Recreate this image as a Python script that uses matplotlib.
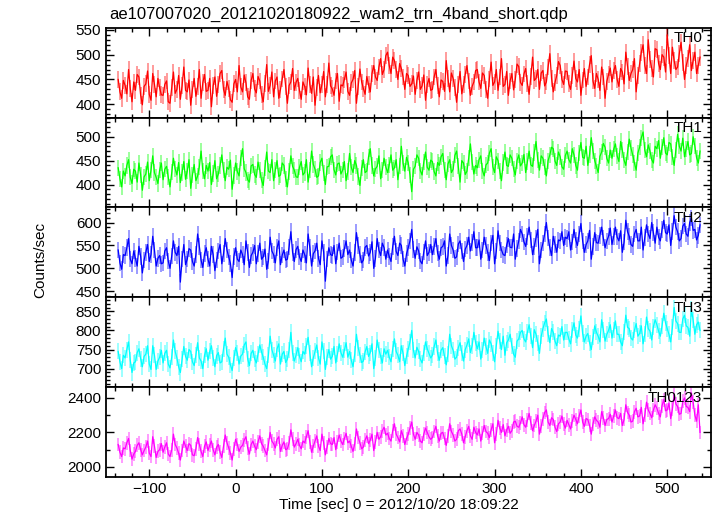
import numpy as np
import matplotlib
matplotlib.use("Agg")
import matplotlib.pyplot as plt
from matplotlib.ticker import MultipleLocator

plt.rcParams["font.family"] = ["Liberation Sans", "DejaVu Sans"]

# 2 s bins, first bin at -136 s
t_start = -136
t_step = 2

th0 = [
    450, 425, 412, 448, 438, 421, 470, 432, 405, 445, 428, 460, 455, 418, 399, 436, 441, 467, 420, 408, 462, 440, 415, 452, 433, 419,
    418, 440, 447, 405, 402, 433, 465, 422, 430, 458, 410, 437, 475, 428, 425, 449, 398, 430, 452, 416, 436, 470, 412, 443, 460, 426,
    428, 452, 395, 437, 455, 416, 440, 462, 468, 430, 418, 446, 432, 409, 404, 441, 450, 425, 478, 435, 425, 459, 443, 415, 410, 448,
    462, 431, 423, 456, 447, 420, 405, 442, 480, 426, 438, 465, 415, 447, 455, 412, 430, 451, 470, 436, 402, 438, 445, 472, 428, 444,
    452, 428, 410, 445, 436, 419, 473, 440, 422, 455, 398, 434, 458, 423, 440, 466, 415, 440, 483, 437, 431, 418, 447, 462, 406, 439,
    437, 450, 465, 426, 418, 443, 450, 468, 402, 436, 471, 445, 432, 420, 456, 439, 425, 462, 478, 455, 448, 475, 492, 460, 470, 498,
    505, 478, 462, 495, 488, 470, 450, 482, 472, 455, 430, 462, 458, 436, 441, 457, 420, 448, 465, 430, 437, 459, 408, 440, 452, 428,
    430, 455, 470, 437, 415, 449, 446, 426, 488, 452, 425, 463, 452, 433, 404, 440, 466, 421, 439, 460, 478, 447, 418, 436, 445, 468,
    470, 445, 432, 463, 458, 430, 412, 451, 485, 438, 445, 470, 428, 455, 492, 436, 440, 466, 418, 447, 462, 429, 450, 481, 476, 444,
    438, 461, 472, 442, 420, 456, 495, 448, 452, 470, 430, 463, 468, 437, 445, 475, 502, 452, 425, 444, 458, 486, 478, 450, 440, 467,
    466, 441, 430, 458, 487, 452, 445, 470, 418, 449, 472, 436, 455, 480, 498, 447, 432, 462, 450, 428, 475, 455, 412, 446, 460, 473,
    445, 468, 478, 450, 436, 472, 465, 441, 505, 476, 448, 462, 470, 492, 425, 458, 482, 505, 520, 478, 462, 530, 490, 472, 455, 512,
    510, 482, 470, 500, 495, 465, 540, 498, 462, 515, 488, 470, 475, 502, 525, 485, 450, 478, 492, 520, 468, 488, 505, 462, 478, 495,
]
th1 = [
    435, 412, 395, 428, 418, 440, 452, 415, 402, 432, 428, 405, 445, 420, 388, 416, 422, 447, 408, 430, 460, 425, 415, 402, 430, 445,
    410, 432, 438, 415, 395, 426, 455, 433, 420, 446, 404, 425, 448, 411, 428, 452, 392, 420, 442, 408, 418, 437, 470, 428, 412, 440,
    428, 446, 400, 423, 450, 412, 422, 440, 462, 430, 408, 436, 432, 451, 390, 419, 445, 427, 418, 455, 475, 433, 425, 410, 405, 439,
    442, 421, 415, 447, 430, 409, 398, 435, 468, 428, 425, 452, 408, 430, 450, 417, 420, 445, 440, 412, 395, 427, 460, 438, 430, 416,
    415, 436, 448, 420, 425, 452, 405, 430, 470, 442, 432, 415, 418, 446, 455, 424, 400, 437, 438, 458, 462, 431, 420, 443, 445, 422,
    430, 448, 408, 427, 465, 436, 425, 450, 440, 417, 398, 434, 452, 425, 428, 458, 475, 440, 418, 433, 438, 460, 412, 431, 455, 437,
    425, 441, 462, 430, 435, 452, 410, 439, 480, 445, 428, 457, 445, 420, 385, 432, 438, 462, 455, 429, 420, 447, 468, 436, 430, 451,
    448, 427, 418, 446, 440, 458, 465, 431, 410, 443, 452, 425, 432, 461, 470, 438, 405, 450, 445, 421, 428, 455, 485, 447, 422, 440,
    435, 452, 460, 429, 418, 441, 445, 466, 475, 437, 425, 458, 450, 428, 408, 446, 468, 440, 438, 462, 455, 433, 420, 450, 462, 439,
    445, 463, 425, 448, 470, 441, 438, 467, 490, 452, 430, 460, 455, 436, 418, 450, 462, 478, 475, 449, 440, 468, 458, 437, 432, 461,
    470, 452, 445, 475, 462, 440, 430, 466, 488, 457, 455, 480, 440, 463, 498, 470, 450, 438, 425, 459, 468, 486, 478, 455, 445, 472,
    455, 474, 485, 460, 448, 490, 472, 451, 440, 468, 495, 476, 462, 445, 430, 466, 478, 498, 510, 472, 458, 483, 470, 452, 445, 480,
    475, 492, 455, 478, 498, 466, 462, 488, 485, 458, 440, 473, 505, 480, 470, 497, 458, 475, 490, 462, 465, 500, 480, 456, 445, 470,
]
th2 = [
    540, 512, 498, 530, 528, 545, 565, 520, 510, 538, 522, 505, 548, 526, 490, 518, 535, 552, 515, 530, 570, 540, 505, 522, 528, 510,
    512, 538, 545, 516, 500, 527, 560, 535, 528, 548, 470, 520, 552, 508, 520, 543, 540, 515, 505, 530, 575, 548, 518, 502, 532, 545,
    520, 505, 548, 530, 495, 518, 538, 552, 510, 532, 565, 540, 525, 511, 480, 526, 545, 520, 515, 540, 530, 508, 560, 535, 502, 528,
    535, 550, 510, 532, 555, 520, 525, 542, 498, 516, 568, 538, 530, 512, 545, 560, 508, 529, 540, 518, 520, 547, 580, 535, 515, 541,
    548, 525, 515, 540, 530, 512, 575, 545, 505, 532, 538, 555, 522, 508, 560, 535, 472, 520, 545, 530, 528, 550, 510, 536, 555, 522,
    525, 543, 560, 530, 540, 518, 505, 535, 578, 550, 530, 512, 518, 546, 550, 527, 535, 558, 500, 522, 565, 540, 528, 555, 545, 520,
    540, 526, 515, 548, 570, 537, 528, 555, 550, 520, 505, 532, 545, 560, 585, 541, 522, 547, 538, 516, 510, 536, 560, 528, 535, 552,
    530, 548, 565, 533, 520, 545, 548, 560, 505, 528, 575, 550, 540, 522, 525, 553, 560, 538, 515, 542, 550, 568, 538, 556, 580, 545,
    545, 562, 520, 540, 568, 550, 535, 517, 555, 572, 510, 538, 582, 555, 540, 530, 528, 551, 565, 546, 545, 575, 520, 543, 560, 585,
    575, 558, 548, 570, 590, 562, 530, 548, 565, 585, 510, 540, 555, 575, 600, 566, 545, 528, 570, 552, 535, 562, 560, 580, 550, 568,
    565, 580, 540, 558, 585, 562, 550, 575, 598, 560, 535, 552, 560, 583, 520, 548, 578, 556, 555, 572, 590, 566, 545, 560, 570, 588,
    552, 570, 590, 568, 560, 582, 535, 557, 605, 580, 570, 552, 548, 575, 585, 560, 560, 590, 540, 567, 595, 575, 565, 600, 578, 555,
    590, 568, 560, 585, 605, 578, 575, 595, 550, 580, 615, 590, 580, 560, 565, 592, 598, 575, 570, 600, 610, 583, 585, 562, 572, 595,
]
th3 = [
    745, 718, 700, 735, 728, 750, 770, 722, 690, 715, 718, 742, 752, 726, 705, 732, 738, 760, 712, 698, 760, 735, 698, 720, 730, 748,
    715, 740, 748, 712, 702, 730, 775, 745, 728, 705, 690, 725, 758, 732, 722, 750, 745, 718, 708, 736, 768, 728, 720, 700, 735, 752,
    722, 745, 760, 728, 705, 734, 742, 715, 718, 752, 780, 738, 730, 710, 695, 727, 755, 740, 712, 733, 738, 762, 770, 725, 708, 740,
    748, 726, 715, 738, 762, 744, 730, 712, 700, 735, 785, 750, 735, 720, 752, 765, 712, 738, 745, 716, 725, 748, 795, 740, 720, 735,
    755, 732, 718, 745, 738, 760, 782, 740, 705, 728, 745, 762, 728, 712, 770, 745, 698, 730, 750, 725, 732, 758, 715, 738, 765, 742,
    730, 748, 768, 730, 745, 722, 705, 738, 790, 755, 735, 716, 720, 744, 758, 732, 742, 765, 700, 728, 775, 750, 732, 715, 752, 738,
    748, 730, 718, 752, 778, 745, 735, 718, 760, 740, 708, 733, 752, 770, 800, 748, 728, 756, 745, 725, 715, 742, 770, 752, 740, 728,
    735, 758, 775, 740, 722, 748, 755, 732, 710, 738, 790, 760, 748, 725, 730, 755, 768, 742, 720, 750, 762, 778, 742, 760, 795, 768,
    752, 770, 725, 748, 780, 758, 740, 775, 765, 742, 718, 760, 798, 772, 750, 785, 735, 768, 775, 790, 760, 738, 730, 772, 778, 795,
    800, 778, 770, 795, 815, 785, 755, 802, 790, 768, 740, 785, 805, 820, 830, 790, 768, 805, 795, 772, 760, 788, 785, 810, 775, 795,
    795, 778, 765, 800, 820, 788, 780, 805, 838, 792, 770, 785, 792, 768, 750, 782, 812, 795, 785, 770, 828, 802, 772, 790, 800, 815,
    780, 802, 825, 790, 790, 770, 760, 795, 840, 808, 805, 780, 775, 800, 818, 785, 792, 812, 765, 790, 835, 805, 798, 775, 810, 828,
    815, 798, 785, 812, 845, 820, 805, 790, 770, 808, 860, 825, 818, 795, 795, 830, 840, 812, 808, 785, 855, 828, 790, 815, 822, 800,
]
th0123 = [
    2130, 2085, 2060, 2110, 2105, 2140, 2165, 2095, 2045, 2075, 2090, 2125, 2140, 2100, 2070, 2095, 2115, 2150, 2080, 2060, 2175, 2120, 2055, 2090, 2100, 2135,
    2085, 2115, 2140, 2075, 2060, 2100, 2190, 2130, 2110, 2080, 2040, 2095, 2150, 2120, 2095, 2135, 2125, 2070, 2065, 2105, 2170, 2130, 2090, 2060, 2120, 2145,
    2095, 2125, 2150, 2100, 2070, 2115, 2130, 2085, 2055, 2120, 2185, 2140, 2110, 2080, 2040, 2105, 2160, 2130, 2090, 2115, 2125, 2155, 2175, 2110, 2075, 2130,
    2150, 2120, 2100, 2145, 2180, 2135, 2120, 2095, 2070, 2130, 2200, 2150, 2135, 2110, 2160, 2175, 2090, 2125, 2145, 2100, 2105, 2140, 2215, 2160, 2115, 2135,
    2160, 2125, 2105, 2150, 2140, 2175, 2210, 2145, 2085, 2120, 2150, 2180, 2120, 2095, 2190, 2140, 2070, 2115, 2165, 2135, 2130, 2170, 2100, 2145, 2185, 2150,
    2130, 2165, 2195, 2140, 2150, 2120, 2090, 2135, 2220, 2170, 2140, 2105, 2115, 2155, 2180, 2135, 2155, 2190, 2095, 2145, 2200, 2160, 2175, 2210, 2230, 2185,
    2195, 2165, 2150, 2210, 2250, 2190, 2170, 2145, 2210, 2180, 2130, 2165, 2190, 2225, 2260, 2190, 2160, 2200, 2185, 2150, 2140, 2190, 2225, 2200, 2175, 2160,
    2170, 2205, 2235, 2180, 2150, 2195, 2200, 2165, 2125, 2180, 2250, 2205, 2185, 2150, 2160, 2210, 2220, 2190, 2140, 2175, 2210, 2235, 2180, 2160, 2230, 2200,
    2185, 2220, 2150, 2195, 2240, 2205, 2195, 2170, 2215, 2250, 2140, 2190, 2270, 2225, 2200, 2245, 2180, 2215, 2235, 2195, 2210, 2260, 2265, 2235, 2230, 2255,
    2290, 2245, 2230, 2270, 2310, 2255, 2210, 2240, 2265, 2300, 2190, 2235, 2280, 2315, 2330, 2260, 2240, 2285, 2275, 2230, 2205, 2250, 2260, 2295, 2250, 2225,
    2270, 2245, 2220, 2265, 2300, 2275, 2250, 2295, 2330, 2260, 2235, 2280, 2275, 2240, 2190, 2250, 2290, 2270, 2260, 2230, 2320, 2285, 2240, 2275, 2280, 2305,
    2260, 2295, 2330, 2285, 2280, 2310, 2240, 2275, 2360, 2315, 2300, 2260, 2265, 2320, 2340, 2290, 2295, 2345, 2250, 2300, 2375, 2330, 2310, 2285, 2330, 2360,
    2340, 2310, 2290, 2355, 2390, 2325, 2330, 2370, 2280, 2335, 2420, 2365, 2350, 2305, 2310, 2380, 2400, 2350, 2345, 2320, 2430, 2375, 2300, 2265, 2360, 2200,
]

names = ["TH0", "TH1", "TH2", "TH3", "TH0123"]
series = [th0, th1, th2, th3, th0123]
errors = [17, 17, 18, 21, 40]
colors = ["#ff0000", "#00ff00", "#0000ff", "#00ffff", "#ff00ff"]
ylims = [(373, 554), (352, 540), (437, 633), (652, 887), (1943, 2463)]
ymajor = [50, 50, 50, 50, 200]
yminor = [10, 10, 10, 10, 100]

fig, axes = plt.subplots(5, 1, figsize=(7.17, 5.16), dpi=100, sharex=True)
fig.subplots_adjust(left=0.148, right=0.992, top=0.946, bottom=0.076, hspace=0)

for ax, name, y, err, c, yl, ma, mi in zip(axes, names, series, errors, colors,
                                           ylims, ymajor, yminor):
    y = np.array(y)
    t = t_start + t_step * np.arange(len(y))
    ax.errorbar(t, y, yerr=err, fmt="none", ecolor=c, elinewidth=1.1, alpha=0.5)
    ax.plot(t, y, color=c, lw=0.9)
    ax.set_ylim(*yl)
    ax.set_xlim(-150, 551)
    ax.yaxis.set_major_locator(MultipleLocator(ma))
    ax.yaxis.set_minor_locator(MultipleLocator(mi))
    ax.xaxis.set_major_locator(MultipleLocator(100))
    ax.xaxis.set_minor_locator(MultipleLocator(20))
    ax.tick_params(which="both", direction="in", top=True, right=True,
                   labelsize=11, width=1.0)
    ax.tick_params(which="major", length=6)
    ax.tick_params(which="minor", length=3)
    for s in ax.spines.values():
        s.set_linewidth(1.3)
    ax.text(0.985, 0.96, name, transform=ax.transAxes, ha="right", va="top",
            fontsize=11)

fig.text(0.556, 0.021, "Time [sec] 0 = 2012/10/20 18:09:22", ha="center",
         va="center", fontsize=11)
fig.text(0.056, 0.496, "Counts/sec", rotation=90, ha="center", va="center",
         fontsize=11)
fig.text(0.153, 0.973, "ae107007020_20121020180922_wam2_trn_4band_short.qdp",
         ha="left", va="center", fontsize=12)

fig.savefig("out.png", dpi=100)
